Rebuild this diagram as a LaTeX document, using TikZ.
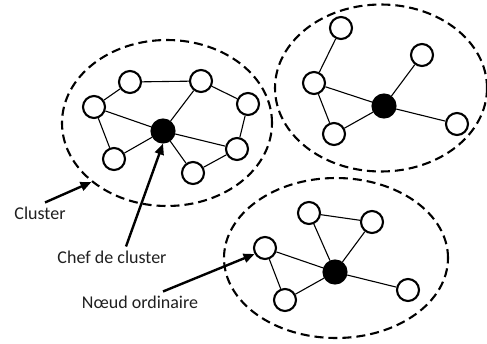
\documentclass[tikz,border=0pt]{standalone}
\usepackage{fontspec}
\setmainfont{Carlito}
\usetikzlibrary{shapes,arrows.meta,positioning}

\begin{document}
\begin{tikzpicture}
  [
    x=1pt, y=-1pt,
    Round/.style={circle, draw=black, fill=white, line width=2.1pt, minimum size=22pt, inner sep=0pt},
    Head/.style={circle, draw=black, fill=black, line width=2.1pt, minimum size=23pt, inner sep=0pt},
    Zone/.style={ellipse, draw=black, line width=2.1pt, dash pattern=on 9pt off 5pt, inner sep=0pt},
    Tag/.style={font=\fontsize{18}{20}\selectfont, text=black!88, inner sep=0pt},
    Link/.style={line width=1.1pt},
    Pointer/.style={-{Triangle[length=11pt,width=9pt]}, line width=2.4pt}
  ]
  \useasboundingbox (0,0) rectangle (487,343);

  % Clusters
  \node[Zone, minimum width=210pt, minimum height=166pt] (k1) at(167, 123) {};
  \node[Zone, minimum width=212pt, minimum height=167pt] (k2) at(381, 88) {};
  \node[Zone, minimum width=224pt, minimum height=160pt] (k3) at(336, 258) {};

  % Nodes
  \node[Head] (h1) at(163, 131) {};
  \node[Round] (a1) at(130, 82) {};
  \node[Round] (a2) at(201, 81) {};
  \node[Round] (a3) at(94, 107) {};
  \node[Round] (a4) at(248, 104) {};
  \node[Round] (a5) at(114, 159) {};
  \node[Round] (a6) at(237, 149) {};
  \node[Round] (a7) at(193, 173) {};

  \node[Head] (h2) at(384, 106) {};
  \node[Round] (b1) at(341, 28) {};
  \node[Round] (b2) at(422, 55) {};
  \node[Round] (b3) at(314, 83) {};
  \node[Round] (b4) at(334, 134) {};
  \node[Round] (b5) at(457, 124) {};

  \node[Head] (h3) at(335, 272) {};
  \node[Round] (c1) at(309, 213) {};
  \node[Round] (c2) at(372, 222) {};
  \node[Round] (c3) at(265, 248) {};
  \node[Round] (c4) at(285, 300) {};
  \node[Round] (c5) at(408, 290) {};

  % Labels
  \node[Tag] (lcluster) at(40, 213) {Cluster};
  \node[Tag] (lchef) at(112, 257) {Chef de cluster};
  \node[Tag] (lnoeud) at(140, 302) {Nœud ordinaire};

  % Lines
  \draw[Link] (a3) -- (a1);
  \draw[Link] (a1) -- (a2);
  \draw[Link] (a2) -- (a4);
  \draw[Link] (a3) -- (h1);
  \draw[Link] (a3) -- (a5);
  \draw[Link] (a5) -- (h1);
  \draw[Link] (a2) -- (h1);
  \draw[Link] (h1) -- (a6);
  \draw[Link] (h1) -- (a7);
  \draw[Link] (a4) -- (a6);
  \draw[Link] (a6) -- (a7);

  \draw[Link] (b1) -- (b3);
  \draw[Link] (b3) -- (h2);
  \draw[Link] (b3) -- (b4);
  \draw[Link] (b4) -- (h2);
  \draw[Link] (b2) -- (h2);
  \draw[Link] (h2) -- (b5);

  \draw[Link] (c1) -- (c2);
  \draw[Link] (c1) -- (h3);
  \draw[Link] (c2) -- (h3);
  \draw[Link] (c3) -- (h3);
  \draw[Link] (c3) -- (c4);
  \draw[Link] (c4) -- (h3);
  \draw[Link] (h3) -- (c5);

  % Arrows
  \draw[Pointer] ([xshift=5pt, yshift=4pt]lcluster.north) -- (k1.218);
  \draw[Pointer] ([xshift=14pt, yshift=4pt]lchef.north) -- (h1.south);
  \draw[Pointer] ([xshift=23pt, yshift=4pt]lnoeud.north) -- (c3.210);

\end{tikzpicture}
\end{document}
